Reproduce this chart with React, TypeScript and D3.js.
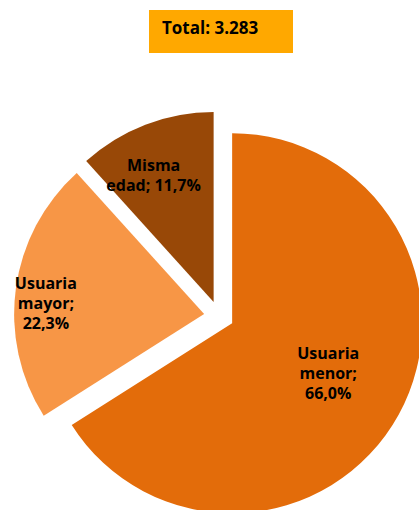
import React from "react";
import * as d3 from "d3";

const categories = ["Usuaria menor", "Usuaria mayor", "Misma edad"];
const values = [66.0, 22.3, 11.7];
const labelLines = [
  ["Usuaria", "menor;", "66,0%"],
  ["Usuaria", "mayor;", "22,3%"],
  ["Misma", "edad; 11,7%"],
];
const totalLabel = "Total: 3.283";
const colors = ["#E36C0A", "#F79646", "#984807"];

export default function App() {
  const W = 419;
  const H = 510;
  const cx = 219;
  const cy = 316;
  const R = 190;
  const explode = 15;
  const labelFrac = [0.57, 0.835, 0.74];
  const labelShiftDeg = [-1.3, -3.7, -4.2];

  const pie = d3
    .pie<number>()
    .sort(null)
    .value((d) => d)
    .startAngle(0)
    .endAngle(2 * Math.PI);
  const arcs = pie(values);
  const arc = d3.arc<d3.PieArcDatum<number>>().innerRadius(0).outerRadius(R);
  const font = "'Open Sans', 'DejaVu Sans', sans-serif";

  return (
    <svg
      width={W}
      height={H}
      style={{ position: "absolute", left: 0, top: 0, display: "block" }}
      fontFamily={font}
    >
      <rect x={149} y={10} width={144} height={43} fill="#FFA800" />
      <text x={162} y={27} textAnchor="start" dominantBaseline="central" fontSize={17} fontWeight="bold" fill="#000">
        {totalLabel}
      </text>
      {arcs.map((a, i) => {
        const mid = (a.startAngle + a.endAngle) / 2;
        const dx = Math.sin(mid) * explode;
        const dy = -Math.cos(mid) * explode;
        const la = mid + (labelShiftDeg[i] * Math.PI) / 180;
        const lr = R * labelFrac[i];
        const lx = Math.sin(la) * lr;
        const ly = -Math.cos(la) * lr;
        const lines = labelLines[i];
        const lh = 20;
        return (
          <g key={categories[i]} transform={`translate(${cx + dx},${cy + dy})`}>
            <path d={arc(a) || ""} fill={colors[i]} />
            <text textAnchor="middle" fontSize={16} fontWeight="bold" fill="#000">
              {lines.map((t, j) => (
                <tspan key={j} x={lx} y={ly + (j - (lines.length - 1) / 2) * lh} dominantBaseline="central">
                  {t}
                </tspan>
              ))}
            </text>
          </g>
        );
      })}
    </svg>
  );
}
